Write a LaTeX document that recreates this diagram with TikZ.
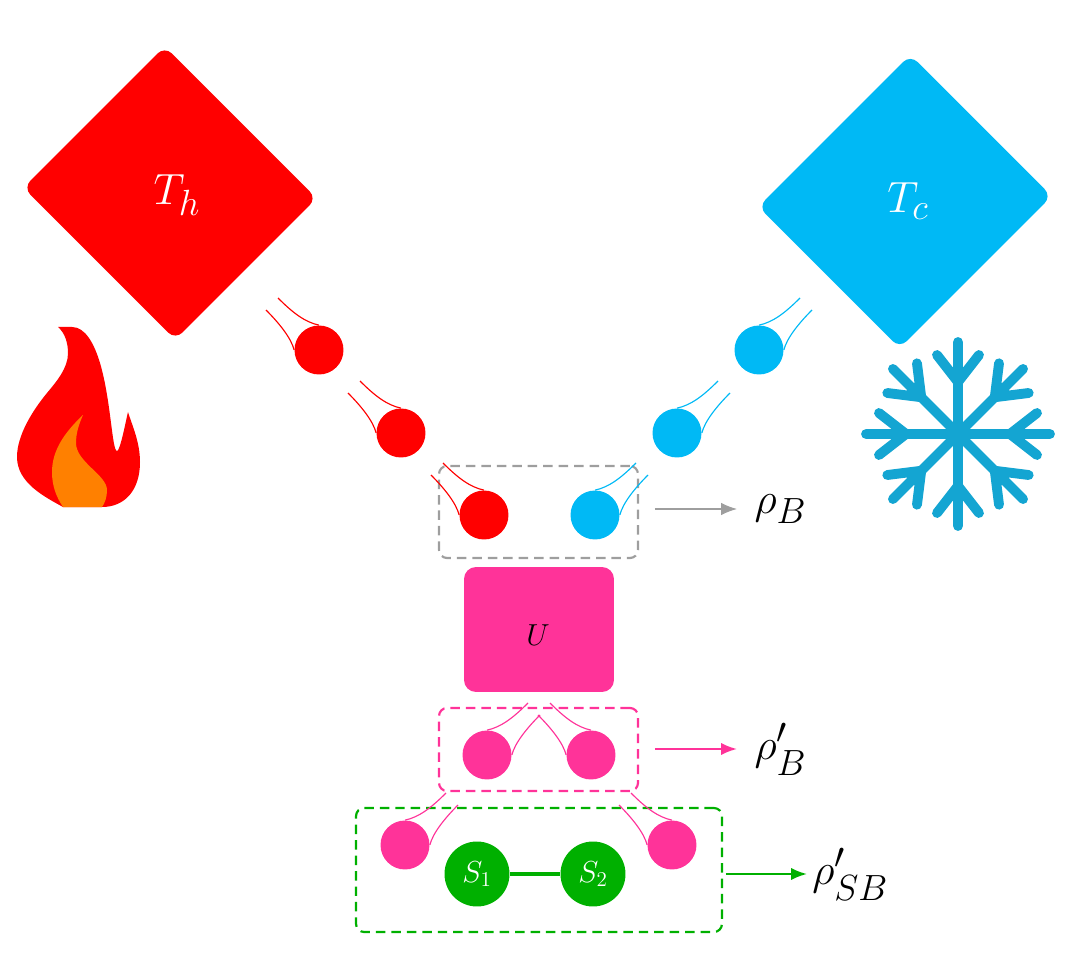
\documentclass[tikz,border=0pt]{standalone}
\usepackage{amssymb}
\usetikzlibrary{arrows.meta}
\definecolor{hot}{HTML}{FF0000}
\definecolor{cold}{HTML}{00B9F5}
\definecolor{icy}{HTML}{14A5D2}
\definecolor{flame}{HTML}{FF8000}
\definecolor{uni}{HTML}{FF3399}
\definecolor{sys}{HTML}{00B000}
\definecolor{boxgray}{HTML}{9E9E9E}
\begin{document}
\begin{tikzpicture}[x=0.02cm,y=-0.02cm]
\useasboundingbox (0,0) rectangle (1080,980);
 \tikzstyle{bath}=[inner sep=0pt, outer sep=0pt, minimum width=4.3cm, minimum height=4cm, rounded corners=0.2cm]
 \tikzstyle{ball}=[circle, inner sep=0pt, minimum size=0.98cm]
 \tikzstyle{qubit}=[circle, inner sep=0pt, minimum size=1.3cm, fill=sys, text=white, font=\LARGE]
 \tikzstyle{dbox}=[draw, dashed, dash pattern=on 5.4pt off 3.4pt, line width=1.25pt, rounded corners=0.16cm, inner sep=0pt, outer sep=0pt]
 \tikzstyle{tail}=[line width=0.65pt]
 \tikzstyle{lbl}=[anchor=west, inner sep=0pt, outer sep=10pt, font=\Huge]
 \tikzstyle{arr}=[-{Latex[length=9pt,width=7pt]}, shorten <=0.34cm, shorten >=0pt]
% baths
\node[bath, fill=hot, rotate=-45](hbath) at (170,193){};
\node[bath, fill=cold, rotate=45](cbath) at (905,201.5){};
\node[text=white, font=\Huge](Th) at (177,195){$T_h$};
\node[text=white, font=\Huge](Tc) at (908,201){$T_c$};
% fire
\fill[hot] (58,327) .. controls (65,333) and (68,343) .. (68,353) .. controls (68,368) and (57,381) .. (47,393)
 .. controls (33,410) and (17,435) .. (17,457) .. controls (17,483) and (45,497) .. (63,507) -- (102,507)
 .. controls (125,507) and (140,490) .. (140,462) .. controls (140,442) and (132,425) .. (128,412)
 .. controls (125,425) and (120,451) .. (117,451) .. controls (112,451) and (111,400) .. (100,363)
 .. controls (94,343) and (85,327) .. (72,327) -- cycle;
\fill[flame] (83,415) .. controls (65,432) and (52,450) .. (52,472) .. controls (52,487) and (57,498) .. (63,507) -- (102,507)
 .. controls (105,503) and (107,497) .. (107,490) .. controls (107,475) and (76,462) .. (76,443) .. controls (76,433) and (79,424) .. cycle;
% snow
\foreach \a in {0,45,...,315}{
 \draw[icy, line width=5.6pt, line cap=round, line join=round, shift={(958,434)}, rotate=\a] (0,0) -- (92,0) (79,-21) -- (52,0) -- (79,21);
}
% dashed boxes
\node[dbox, draw=boxgray, minimum width=3.98cm, minimum height=1.84cm](gbox) at (538.5,512){};
\node[dbox, draw=uni, minimum width=3.98cm, minimum height=1.66cm](pbox) at (538.5,749.5){};
\node[dbox, draw=sys, minimum width=7.32cm, minimum height=2.48cm](sbox) at (539,870){};
% balls with tails
\foreach \n/\x/\y/\s/\w/\c in {h1/319/350/-1/west/hot, h2/401/433/-1/west/hot, h3/484/515/-1/west/hot,
 c1/759/350/1/east/cold, c2/677/433/1/east/cold, c3/595/515/1/east/cold,
 p1/487/755/1/east/uni, p2/591/755/-1/west/uni, p3/405/845/1/east/uni, p4/672/845/-1/west/uni}{
 \node[ball, fill=\c](\n) at (\x,\y){};
 \coordinate (\n a) at (\x+\s*41,\y-52);
 \coordinate (\n b) at (\x+\s*53,\y-40);
 \draw[tail, \c] (\n.north) .. controls +(\s*14,-3) and +(-\s*15,15) .. (\n a);
 \draw[tail, \c] (\n.\w) .. controls +(\s*3,-12) and +(-\s*13,13) .. (\n b);
}
% interaction
\node[fill=uni, rounded corners=0.24cm, minimum width=3cm, minimum height=2.5cm, inner sep=0pt](Ubox) at (539,629.5){};
\node[font=\LARGE](U) at (538,635){$U$};
% system
\node[qubit](S1) at (477,874){$S_1$};
\node[qubit](S2) at (593,874){$S_2$};
\draw[sys, line width=2.7pt] (S1) -- (S2);
% outputs
\node[lbl](rB) at (737,509){$\rho_B$};
\node[lbl](rpB) at (737,749){$\rho'_B$};
\node[lbl, outer sep=3pt](rpSB) at (807,874){$\rho'_{SB}$};
\draw[arr, boxgray, line width=0.6pt] (gbox.east |- rB.west) -- (rB.west);
\draw[arr, uni, line width=1.3pt] (pbox.east |- rpB.west) -- (rpB.west);
\draw[arr, sys, line width=1.3pt, shorten <=0.08cm] (sbox.east |- rpSB.west) -- (rpSB.west);
\end{tikzpicture}
\end{document}
